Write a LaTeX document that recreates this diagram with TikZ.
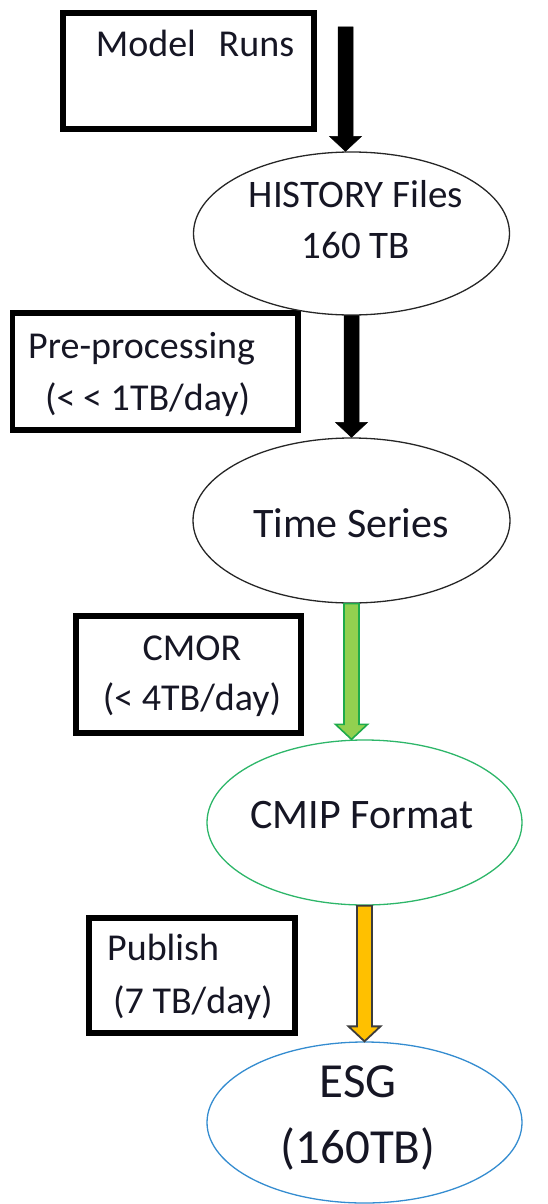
\documentclass[tikz,border=0pt]{standalone}
\usepackage{fontspec}
\setmainfont{Carlito}
\usetikzlibrary{calc,shapes.geometric}

\definecolor{inkc}{RGB}{22,22,36}
\definecolor{greenfill}{RGB}{146,208,80}
\definecolor{greenline}{RGB}{30,170,75}
\definecolor{cmipline}{RGB}{45,182,105}
\definecolor{esgline}{RGB}{52,140,208}
\definecolor{orangefill}{RGB}{255,192,0}
\definecolor{orangeline}{RGB}{60,60,60}

% vertical block arrow: #1 style, #2 start point, #3 tip point
\newcommand\flowarrow[3]{%
  \draw[#1] let \p1=(#2), \p2=(#3) in
    (\x1-7.5pt,\y1) -- (\x1-7.5pt,\y2+15pt) -- (\x1-16pt,\y2+15pt) --
    (\x1,\y2) -- (\x1+16pt,\y2+15pt) -- (\x1+7.5pt,\y2+15pt) --
    (\x1+7.5pt,\y1) -- cycle;}

\tikzset{
  stagebox/.style={draw=black, line width=5.5pt, rectangle, inner sep=0pt},
  dataset/.style={ellipse, inner sep=0pt, line width=1.3pt},
  label/.style={text=inkc, inner sep=0pt},
  blackarrow/.style={fill=black, draw=black, line width=0.5pt},
  greenarrow/.style={fill=greenfill, draw=greenline, line width=1.6pt},
  orangearrow/.style={fill=orangefill, draw=orangeline, line width=1.8pt},
}

\begin{document}
\begin{tikzpicture}[x=1pt,y=-1pt]
\useasboundingbox (0,0) rectangle (547,1204);

% process boxes
\node[stagebox, minimum width=251pt, minimum height=116pt] (runsbox) at (188.5,71) {};
\node[stagebox, minimum width=285.5pt, minimum height=117pt] (prebox) at (155.25,371.5) {};
\node[stagebox, minimum width=225pt, minimum height=117pt] (cmorbox) at (188.5,674.5) {};
\node[stagebox, minimum width=206pt, minimum height=115pt] (pubbox) at (192,975.5) {};

% box labels (multi-line labels are placed by the baseline of their last line)
\node[label, font=\fontsize{38}{52}\selectfont, anchor=base] (runstext) at (195,57)
  {Model\hspace{0.6em}Runs};
\node[label, font=\fontsize{38}{52}\selectfont, anchor=base west, align=left] (pretext) at (28,410)
  {Pre-processing\\\hspace*{17pt}(<\kern0.2em< 1TB/day)};
\node[label, font=\fontsize{38}{50}\selectfont, anchor=base, align=center] (cmortext) at (192,710)
  {CMOR\\(< 4TB/day)};
\node[label, font=\fontsize{38}{53}\selectfont, anchor=base west, align=left] (pubtext) at (107,1013)
  {Publish\\\hspace*{6pt}(7 TB/day)};

% data sets
\node[dataset, draw=black!85, minimum width=316pt, minimum height=163pt] (hist) at (351.5,233.5) {};
\node[dataset, draw=black!85, minimum width=317pt, minimum height=165pt] (ts) at (351.5,520.5) {};
\node[dataset, draw=cmipline, minimum width=315pt, minimum height=165pt] (cmip) at (364.5,822.5) {};
\node[dataset, draw=esgline, minimum width=315pt, minimum height=161pt] (esg) at (364.5,1122.5) {};

% data set labels
\node[label, font=\fontsize{39}{51}\selectfont, anchor=base, align=center] (histtext) at (356,258)
  {HISTORY Files\\160 TB};
\node[label, font=\fontsize{42}{52}\selectfont, anchor=base] (tstext) at (351,537) {Time Series};
\node[label, font=\fontsize{42}{52}\selectfont, anchor=base] (cmiptext) at (362,828) {CMIP Format};
\node[label, font=\fontsize{49}{66}\selectfont, anchor=base, align=center] (esgtext) at (358,1163)
  {ESG\\(160TB)};

% flow arrows
\coordinate (runsout) at (345.5,27);
\flowarrow{blackarrow}{runsout}{runsout |- hist.north}
\flowarrow{blackarrow}{hist.south}{ts.north}
\flowarrow{greenarrow}{ts.south}{ts.south |- cmip.north}
\flowarrow{orangearrow}{cmip.south}{esg.north}
\end{tikzpicture}
\end{document}
